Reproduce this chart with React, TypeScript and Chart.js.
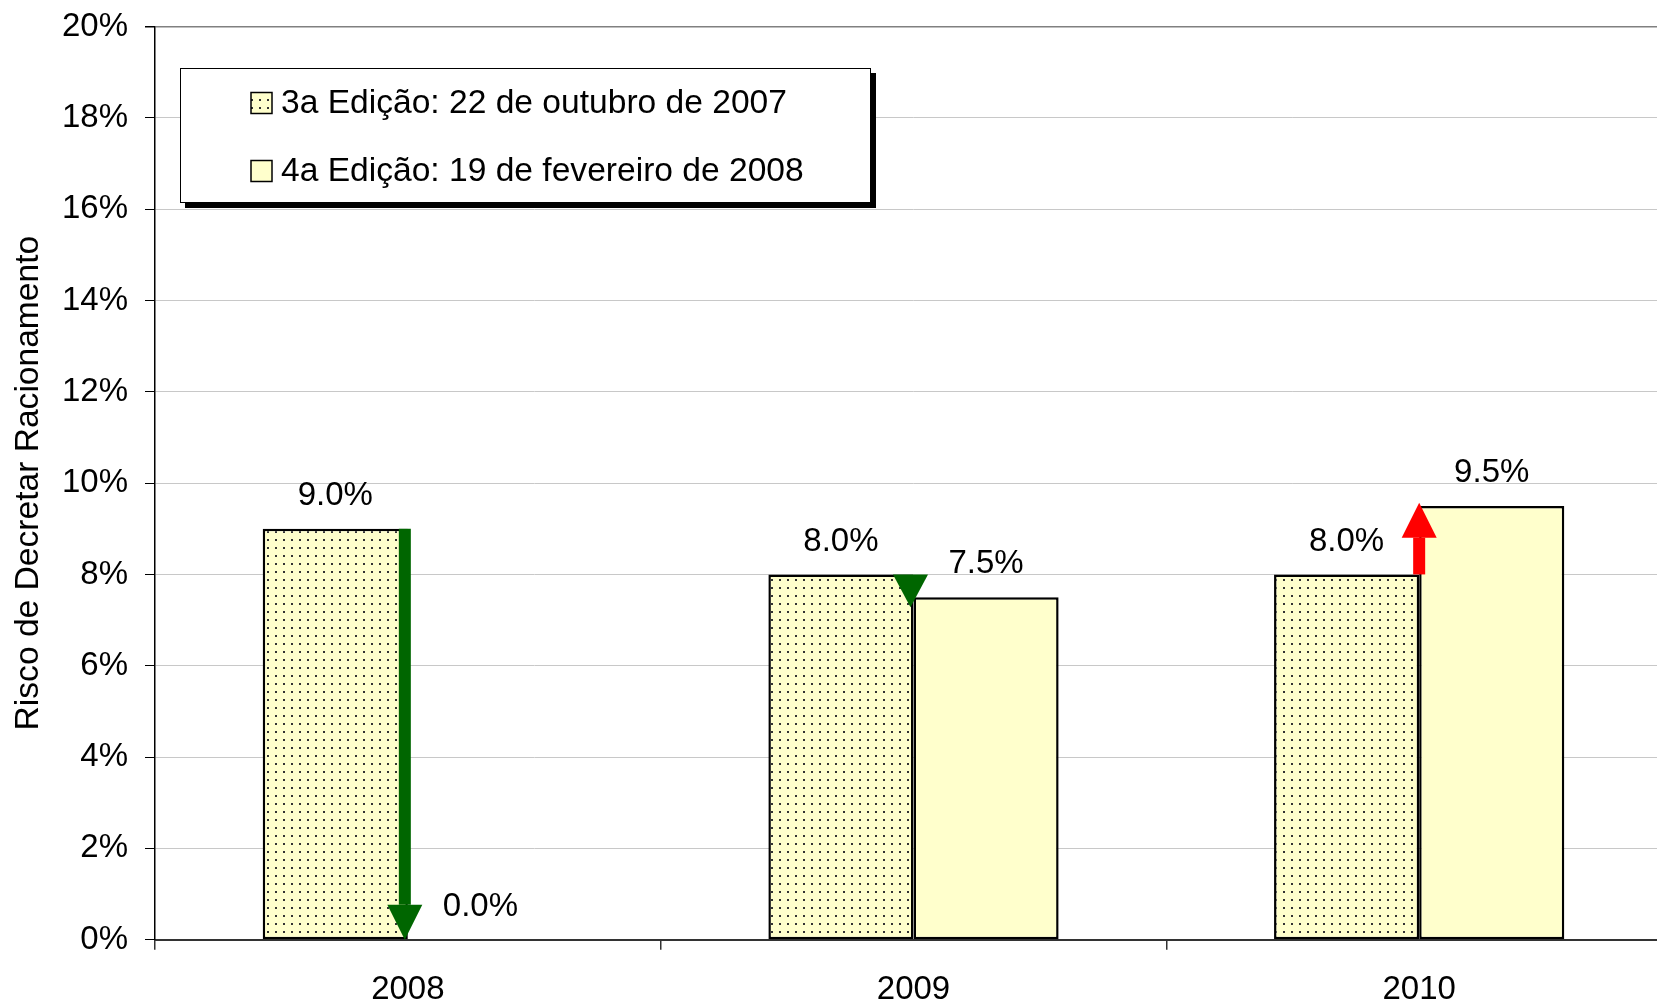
import React, { useEffect, useRef } from "react";
import { Chart, registerables } from "chart.js";

Chart.register(...registerables);

const categories = ["2008", "2009", "2010"];
const edicao3 = [9.0, 8.0, 8.0];
const edicao4 = [0.0, 7.5, 9.5];
const seriesLabels = [
  "3a Edição: 22 de outubro de 2007",
  "4a Edição: 19 de fevereiro de 2008",
];
const yAxisTitle = "Risco de Decretar Racionamento";
// change arrows between editions (value where arrow starts / where its tip ends)
const arrowFrom = [9.0, 8.0, 8.0];
const arrowTo = [0.0, 7.28, 9.57];
const arrowColors = ["#006600", "#006600", "#ff0000"];

const FONT = "'Liberation Sans', Arial, sans-serif";
const FS = 33;
const FS_BIG = 33.6;
const ARROW_SHIFT = [-3, -3, 0];

function makePattern(): CanvasPattern | string {
  const c = document.createElement("canvas");
  c.width = 8;
  c.height = 8;
  const g = c.getContext("2d");
  if (!g) return "#ffffcc";
  g.fillStyle = "#ffffcc";
  g.fillRect(0, 0, 8, 8);
  g.fillStyle = "#333";
  g.fillRect(3, 3, 2, 2);
  const p = g.createPattern(c, "repeat");
  return p || "#ffffcc";
}

const labelsPlugin = {
  id: "valueLabels",
  afterDatasetsDraw(chart: any) {
    const ctx = chart.ctx;
    ctx.save();
    ctx.font = `${FS}px ${FONT}`;
    ctx.fillStyle = "#000";
    ctx.textAlign = "center";
    ctx.textBaseline = "middle";
    chart.data.datasets.forEach((ds: any, di: number) => {
      const meta = chart.getDatasetMeta(di);
      meta.data.forEach((el: any, i: number) => {
        const v = ds.data[i];
        ctx.fillText(v.toFixed(1) + "%", el.x, el.y - 33);
      });
    });
    ctx.restore();
  },
};

const arrowsPlugin = {
  id: "arrows",
  afterDatasetsDraw(chart: any) {
    const ctx = chart.ctx;
    const y = chart.scales.y;
    const m0 = chart.getDatasetMeta(0);
    ctx.save();
    arrowFrom.forEach((from, i) => {
      const el = m0.data[i];
      const x = el.x + el.width / 2 + ARROW_SHIFT[i];
      const y0 = y.getPixelForValue(from);
      const y1 = y.getPixelForValue(arrowTo[i]);
      const dir = y1 > y0 ? 1 : -1;
      const len = Math.abs(y1 - y0);
      const headLen = Math.min(35, len);
      const headW = 35;
      const shaftW = 12;
      ctx.fillStyle = arrowColors[i];
      const hb = y1 - dir * headLen;
      if (len > headLen) {
        ctx.fillRect(x - shaftW / 2, Math.min(y0, hb), shaftW, Math.abs(hb - y0));
      }
      ctx.beginPath();
      ctx.moveTo(x - headW / 2, hb);
      ctx.lineTo(x + headW / 2, hb);
      ctx.lineTo(x, y1);
      ctx.closePath();
      ctx.fill();
    });
    ctx.restore();
  },
};

const legendPlugin = {
  id: "boxLegend",
  afterDraw(chart: any) {
    const ctx = chart.ctx;
    const bx = 180, by = 68, bw = 691, bh = 135;
    ctx.save();
    ctx.fillStyle = "#000";
    ctx.fillRect(bx + 5, by + 5, bw, bh);
    ctx.fillStyle = "#fff";
    ctx.fillRect(bx, by, bw, bh);
    ctx.strokeStyle = "#000";
    ctx.lineWidth = 1;
    ctx.strokeRect(bx + 0.5, by + 0.5, bw - 1, bh - 1);
    const rows = [103, 171];
    ctx.font = `${FS_BIG}px ${FONT}`;
    ctx.textAlign = "left";
    ctx.textBaseline = "middle";
    chart.data.datasets.forEach((ds: any, i: number) => {
      const cy = rows[i];
      ctx.fillStyle = ds.backgroundColor;
      ctx.fillRect(251, cy - 10.5, 21, 21);
      ctx.strokeStyle = "#000";
      ctx.lineWidth = 1.5;
      ctx.strokeRect(251, cy - 10.5, 21, 21);
      ctx.fillStyle = "#000";
      ctx.fillText(ds.label, 281, cy + 1);
    });
    ctx.restore();
  },
};

export default function App() {
  const ref = useRef<HTMLCanvasElement | null>(null);
  useEffect(() => {
    if (!ref.current) return;
    const pattern = makePattern();
    const chart = new Chart(ref.current, {
      type: "bar",
      data: {
        labels: categories,
        datasets: [
          {
            label: seriesLabels[0],
            data: edicao3,
            backgroundColor: pattern as any,
            borderColor: "#000",
            borderWidth: 2.5,
            borderSkipped: false,
            categoryPercentage: 0.574,
            barPercentage: 1,
          },
          {
            label: seriesLabels[1],
            data: edicao4,
            backgroundColor: "#ffffcc",
            borderColor: "#000",
            borderWidth: (c: any) => (c.raw === 0 ? 0 : 2.5),
            borderSkipped: false,
            categoryPercentage: 0.574,
            barPercentage: 1,
          },
        ],
      },
      options: {
        responsive: false,
        animation: false,
        devicePixelRatio: 1,
        layout: { padding: { top: 26.5, right: 28, left: 0, bottom: 0 } },
        plugins: { legend: { display: false }, tooltip: { enabled: false } },
        scales: {
          x: {
            offset: true,
            afterFit: (s: any) => {
              s.height = 64.3;
            },
            border: { display: true, color: "#333", width: 2 },
            grid: {
              offset: true,
              drawOnChartArea: false,
              drawTicks: true,
              tickLength: 10,
              tickColor: "#333",
              lineWidth: 1.5,
            },
            ticks: {
              color: "#000",
              font: { family: FONT, size: FS },
              padding: 20,
              maxRotation: 0,
            },
          },
          y: {
            min: 0,
            max: 20,
            afterFit: (s: any) => {
              s.width = 155;
              s.paddingTop = 0;
              s.paddingBottom = 0;
            },
            border: { display: true, color: "#000", width: 1.5 },
            grid: {
              color: (c: any) => (c.tick && c.tick.value === 20 ? "#808080" : "#c8c8c8"),
              lineWidth: (c: any) => (c.tick && c.tick.value === 20 ? 1.5 : 1),
              tickColor: "#000",
              tickLength: 10,
            },
            ticks: {
              stepSize: 2,
              color: "#000",
              font: { family: FONT, size: FS },
              padding: 17,
              callback: (v: any) => v + "%",
            },
            title: {
              display: true,
              text: yAxisTitle,
              color: "#000",
              font: { family: FONT, size: FS_BIG },
              padding: { top: 9, bottom: 0 },
            },
          },
        },
      },
      plugins: [labelsPlugin, arrowsPlugin, legendPlugin],
    });
    return () => chart.destroy();
  }, []);
  return (
    <div
      style={{
        position: "fixed",
        left: 0,
        top: 0,
        width: 1657,
        height: 1004,
        overflow: "hidden",
        background: "#fff",
      }}
    >
      <canvas
        ref={ref}
        width={1700}
        height={1004}
        style={{ display: "block", width: 1700, height: 1004 }}
      />
    </div>
  );
}
